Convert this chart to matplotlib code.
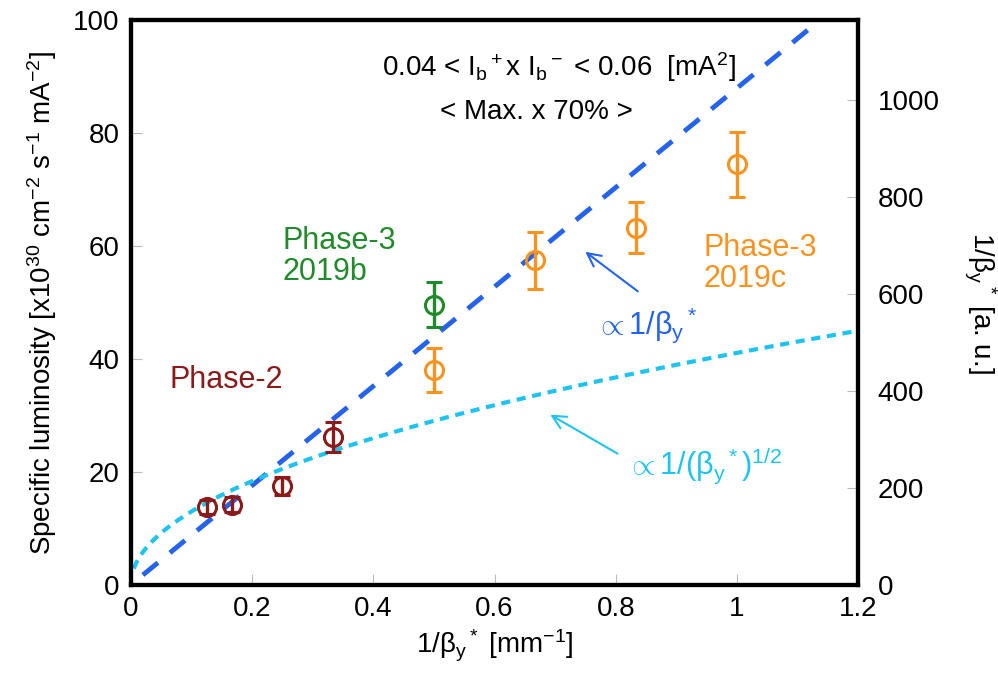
import matplotlib.pyplot as plt
import numpy as np

plt.rcParams['font.family'] = ['Liberation Sans', 'DejaVu Sans']
plt.rcParams['mathtext.fontset'] = 'custom'
plt.rcParams['mathtext.rm'] = 'Liberation Sans'
plt.rcParams['mathtext.it'] = 'Liberation Sans'

# Phase-2
x_p2 = [0.125, 0.1667, 0.25, 0.333]
y_p2 = [13.8, 14.2, 17.5, 26.2]
e_p2 = [1.2, 1.3, 1.6, 2.7]

# Phase-3 2019b
x_b = [0.5]
y_b = [49.6]
e_b = [4.0]

# Phase-3 2019c
x_c = [0.5, 0.667, 0.833, 1.0]
y_c = [38.0, 57.5, 63.3, 74.5]
e_c = [3.9, 5.0, 4.6, 5.8]

# scaling curves
lin_slope = 88.0
sqrt_coef = 41.1

red = '#8b1a1a'
green = '#218a2a'
orange = '#f7931e'
blue = '#2563eb'
cyan = '#1ec3f0'

fig = plt.figure(figsize=(9.98, 6.77), dpi=100)
ax = fig.add_axes([0.131, 0.136, 0.729, 0.834])

xs = np.linspace(0.02, 1.2, 200)
ax.plot(xs, lin_slope * xs, '--', color=blue, lw=3.5, dashes=(4, 3.2))
xs2 = np.linspace(0.005, 1.2, 300)
ax.plot(xs2, sqrt_coef * np.sqrt(xs2), '--', color=cyan, lw=3, dashes=(2.2, 1.6))

mk = dict(fmt='o', ms=13, mfc='none', mew=2.2, capsize=6, elinewidth=2.4, capthick=2.4)
ax.errorbar(x_p2, y_p2, yerr=e_p2, color=red, **mk)
ax.errorbar(x_b, y_b, yerr=e_b, color=green, **mk)
ax.errorbar(x_c, y_c, yerr=e_c, color=orange, **mk)

ax.set_xlim(0, 1.2)
ax.set_ylim(0, 100)
ax.set_xticks(np.arange(0, 1.21, 0.2))
ax.set_xticklabels(['0', '0.2', '0.4', '0.6', '0.8', '1', '1.2'])
ax.set_yticks(np.arange(0, 101, 20))
ax.tick_params(direction='in', length=8, color='#bbbbbb', labelsize=20, pad=8)
for s in ax.spines.values():
    s.set_linewidth(3)

ax.set_ylabel(r'Specific luminosity [x10$^{30}$ cm$^{-2}$ s$^{-1}$ mA$^{-2}$]', fontsize=20, labelpad=10)
ax.set_xlabel(r'$\mathrm{1/\beta_y}$$^*$ [mm$^{-1}$]', fontsize=20, labelpad=4)

ax2 = ax.twinx()
ax2.set_ylim(0, 1165)
ax2.set_yticks(np.arange(0, 1001, 200))
ax2.tick_params(direction='in', length=8, color='#bbbbbb', labelsize=20, pad=14)
ax2.set_ylabel(r'1/$\beta_y$$^*$ [a. u.]', fontsize=20, rotation=270, labelpad=42)
for s in ax2.spines.values():
    s.set_linewidth(3)

ax.text(0.589, 0.917, r'0.04 < I$_b$$^+$x I$_b$$^-$ < 0.06  [mA$^2$]', transform=ax.transAxes,
        ha='center', va='center', fontsize=20)
ax.text(0.557, 0.837, '< Max. x 70% >', transform=ax.transAxes, ha='center', va='center', fontsize=20)

ax.text(0.25, 58.2, 'Phase-3\n2019b', color=green, fontsize=22, ha='left', va='center', linespacing=1.05)
ax.text(0.064, 36.3, 'Phase-2', color=red, fontsize=22, ha='left', va='center')
ax.text(0.944, 57, 'Phase-3\n2019c', color=orange, fontsize=22, ha='left', va='center', linespacing=1.05)

ax.text(0.85, 46, r'$\propto$1/$\beta_y$$^*$', color=blue, fontsize=22, ha='center', va='center')
ax.text(0.945, 21, r'$\propto$1/($\beta_y$$^*$)$^{1/2}$', color=cyan, fontsize=22, ha='center', va='center')

ax.annotate('', xy=(0.746, 59.3), xytext=(0.84, 51.7),
            arrowprops=dict(arrowstyle='->', color=blue, lw=1.5, mutation_scale=24))
ax.annotate('', xy=(0.688, 30.4), xytext=(0.807, 23),
            arrowprops=dict(arrowstyle='->', color=cyan, lw=1.5, mutation_scale=24))

fig.savefig('out.png', dpi=100)
